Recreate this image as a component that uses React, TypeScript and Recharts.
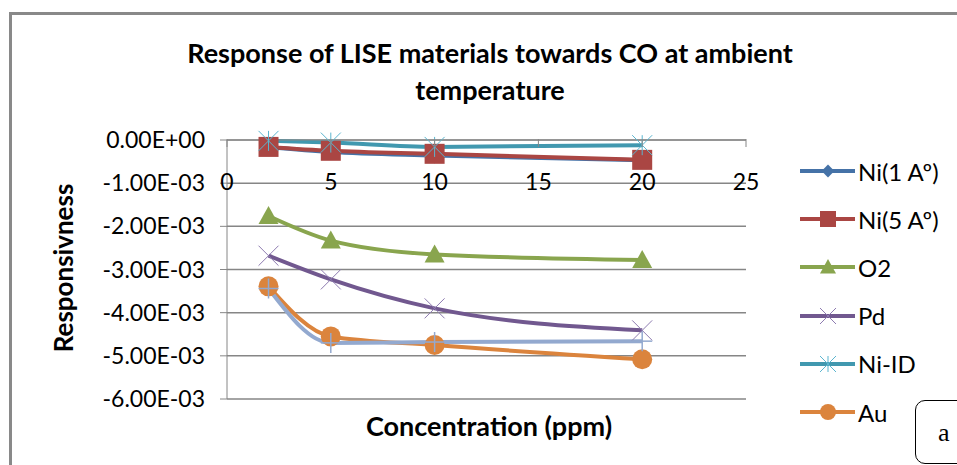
import { CartesianGrid, Legend, Line, LineChart, XAxis, YAxis } from "recharts";

const concentration = [2, 5, 10, 20];
const ni1 = [-0.00017, -0.00028, -0.00036, -0.00047];
const ni5 = [-0.00016, -0.00025, -0.00032, -0.00046];
const o2 = [-0.00176, -0.00233, -0.00265, -0.00278];
const pd = [-0.00268, -0.00323, -0.0039, -0.00441];
const niId = [-0.00002, -0.00006, -0.00016, -0.00012];
const au = [-0.00339, -0.00455, -0.00475, -0.00508];
const extra = [-0.00344, -0.0047, -0.00468, -0.00466];

const xTicks = [0, 5, 10, 15, 20, 25];
const yTicks = [0, -0.001, -0.002, -0.003, -0.004, -0.005, -0.006];

const data = concentration.map((c, i) => ({
  c,
  ni1: ni1[i],
  ni5: ni5[i],
  o2: o2[i],
  pd: pd[i],
  niId: niId[i],
  au: au[i],
  extra: extra[i],
}));

const FONT = "Lato, 'Open Sans', sans-serif";
const PLOT_TOP = 139;
const LABEL_Y = 182;

type Shape = "diamond" | "square" | "triangle" | "x" | "star" | "circle" | "plus";

const seriesList: { key: string; name: string; color: string; shape: Shape; legend: boolean }[] = [
  { key: "ni1", name: "Ni(1 Aº)", color: "#4572A7", shape: "diamond", legend: true },
  { key: "ni5", name: "Ni(5 Aº)", color: "#AA4643", shape: "square", legend: true },
  { key: "o2", name: "O2", color: "#89A54E", shape: "triangle", legend: true },
  { key: "pd", name: "Pd", color: "#71588F", shape: "x", legend: true },
  { key: "niId", name: "Ni-ID", color: "#4198AF", shape: "star", legend: true },
  { key: "au", name: "Au", color: "#DB843D", shape: "circle", legend: true },
  { key: "extra", name: "Series7", color: "#93A9CF", shape: "plus", legend: false },
];

function sci(v: number) {
  if (v === 0) return "0.00E+00";
  const exp = Math.floor(Math.log10(Math.abs(v)) + 1e-9);
  const mant = v / Math.pow(10, exp);
  const e = Math.abs(exp).toString().padStart(2, "0");
  return `${mant.toFixed(2)}E${exp < 0 ? "-" : "+"}${e}`;
}

function Marker({ cx, cy, shape, color, s = 10 }: { cx: number; cy: number; shape: Shape; color: string; s?: number }) {
  if (cx == null || cy == null) return null;
  switch (shape) {
    case "diamond":
      return <polygon points={`${cx},${cy - s * 0.8} ${cx + s * 0.8},${cy} ${cx},${cy + s * 0.8} ${cx - s * 0.8},${cy}`} fill={color} />;
    case "square":
      return <rect x={cx - s} y={cy - s} width={s * 2} height={s * 2} fill={color} />;
    case "triangle":
      return <polygon points={`${cx},${cy - s} ${cx + s},${cy + s * 0.8} ${cx - s},${cy + s * 0.8}`} fill={color} />;
    case "x":
      return (
        <g stroke="#8D7BB0" strokeWidth={1}>
          <line x1={cx - s} y1={cy - s} x2={cx + s} y2={cy + s} />
          <line x1={cx - s} y1={cy + s} x2={cx + s} y2={cy - s} />
        </g>
      );
    case "star":
      return (
        <g stroke="#5BB5CF" strokeWidth={1}>
          <line x1={cx - s} y1={cy - s} x2={cx + s} y2={cy + s} />
          <line x1={cx - s} y1={cy + s} x2={cx + s} y2={cy - s} />
          <line x1={cx} y1={cy - s} x2={cx} y2={cy + s} />
        </g>
      );
    case "circle":
      return <circle cx={cx} cy={cy} r={s} fill={color} />;
    case "plus":
      return (
        <g stroke="#93A9CF" strokeWidth={1.5}>
          <line x1={cx} y1={cy - s} x2={cx} y2={cy + s} />
          <line x1={cx - s} y1={cy} x2={cx + s} y2={cy} />
        </g>
      );
  }
  return null;
}

const renderXTick = (props: any) => {
  const { x, payload, index } = props;
  return (
    <g key={`xt-${index}`}>
      <line x1={x} x2={x} y1={PLOT_TOP} y2={PLOT_TOP + 8} stroke="#868686" />
      <text x={x} y={LABEL_Y} dy={8} textAnchor="middle" fontSize={23} fontFamily={FONT} fill="#000">
        {payload.value}
      </text>
    </g>
  );
};

const LegendContent = () => (
  <div style={{ fontFamily: FONT, fontSize: 24, color: "#000" }}>
    {seriesList
      .filter((s) => s.legend)
      .map((s) => (
        <div key={s.key} style={{ height: 48.2, display: "flex", alignItems: "center" }}>
          <svg width={58} height={30} style={{ display: "block" }}>
            <line x1={0} x2={55} y1={15} y2={15} stroke={s.color} strokeWidth={4} />
            <Marker cx={28} cy={15} shape={s.shape} color={s.color} s={8} />
          </svg>
          <span>{s.name}</span>
        </div>
      ))}
  </div>
);

export default function App() {
  return (
    <div style={{ position: "absolute", left: 0, top: 0, width: 957, height: 465, overflow: "hidden", background: "#fff" }}>
      <div style={{ position: "absolute", left: 9, top: 12, width: 1000, height: 500, border: "3px solid #898989" }} />
      <div
        style={{
          position: "absolute",
          left: 90,
          top: 34,
          width: 800,
          textAlign: "center",
          fontFamily: FONT,
          fontWeight: 700,
          fontSize: 27,
          lineHeight: "37px",
          color: "#000",
        }}
      >
        Response of LISE materials towards CO at ambient
        <br />
        temperature
      </div>
      <div style={{ position: "absolute", left: 0, top: 0 }}>
        <LineChart width={957} height={465} data={data} margin={{ top: PLOT_TOP, left: 97, right: 61, bottom: 66 }}>
          <CartesianGrid horizontal vertical={false} stroke="#868686" strokeWidth={1.5} />
          <XAxis
            dataKey="c"
            type="number"
            domain={[0, 25]}
            ticks={xTicks}
            orientation="top"
            height={1}
            axisLine={{ stroke: "#868686" }}
            tickLine={false}
            tick={renderXTick}
            interval={0}
          />
          <YAxis
            type="number"
            domain={[-0.006, 0]}
            ticks={yTicks}
            width={130}
            interval={0}
            tickFormatter={sci}
            axisLine={{ stroke: "#868686" }}
            tickLine={{ stroke: "#868686" }}
            tickSize={7}
            tickMargin={15}
            tick={{ fontSize: 23, fontFamily: FONT, fill: "#000" }}
          />
          <Legend
            layout="vertical"
            verticalAlign="top"
            align="right"
            content={<LegendContent />}
            wrapperStyle={{ position: "absolute", left: 800, top: 147, width: 150 }}
          />
          {seriesList.map((s) => (
            <Line
              key={s.key}
              dataKey={s.key}
              name={s.name}
              type="monotone"
              stroke={s.color}
              strokeWidth={4}
              isAnimationActive={false}
              legendType={s.legend ? "line" : "none"}
              dot={(p: any) => <Marker key={`${s.key}-${p.index}`} cx={p.cx} cy={p.cy} shape={s.shape} color={s.color} />}
              activeDot={false}
            />
          ))}
        </LineChart>
      </div>
      <div
        style={{
          position: "absolute",
          left: 63,
          top: 268,
          transform: "translate(-50%, -50%) rotate(-90deg)",
          fontFamily: FONT,
          fontWeight: 700,
          fontSize: 26,
          whiteSpace: "nowrap",
          color: "#000",
        }}
      >
        Responsivness
      </div>
      <div
        style={{
          position: "absolute",
          left: 489,
          top: 425,
          transform: "translate(-50%, -50%)",
          fontFamily: FONT,
          fontWeight: 700,
          fontSize: 27,
          whiteSpace: "nowrap",
          color: "#000",
        }}
      >
        Concentration (ppm)
      </div>
      <div
        style={{
          position: "absolute",
          left: 915,
          top: 400,
          width: 70,
          height: 62,
          border: "1.5px solid #000",
          borderRadius: 10,
          background: "#fff",
        }}
      />
      <div style={{ position: "absolute", left: 938, top: 418, fontFamily: "'Liberation Serif', serif", fontSize: 26, color: "#000" }}>
        a
      </div>
    </div>
  );
}
